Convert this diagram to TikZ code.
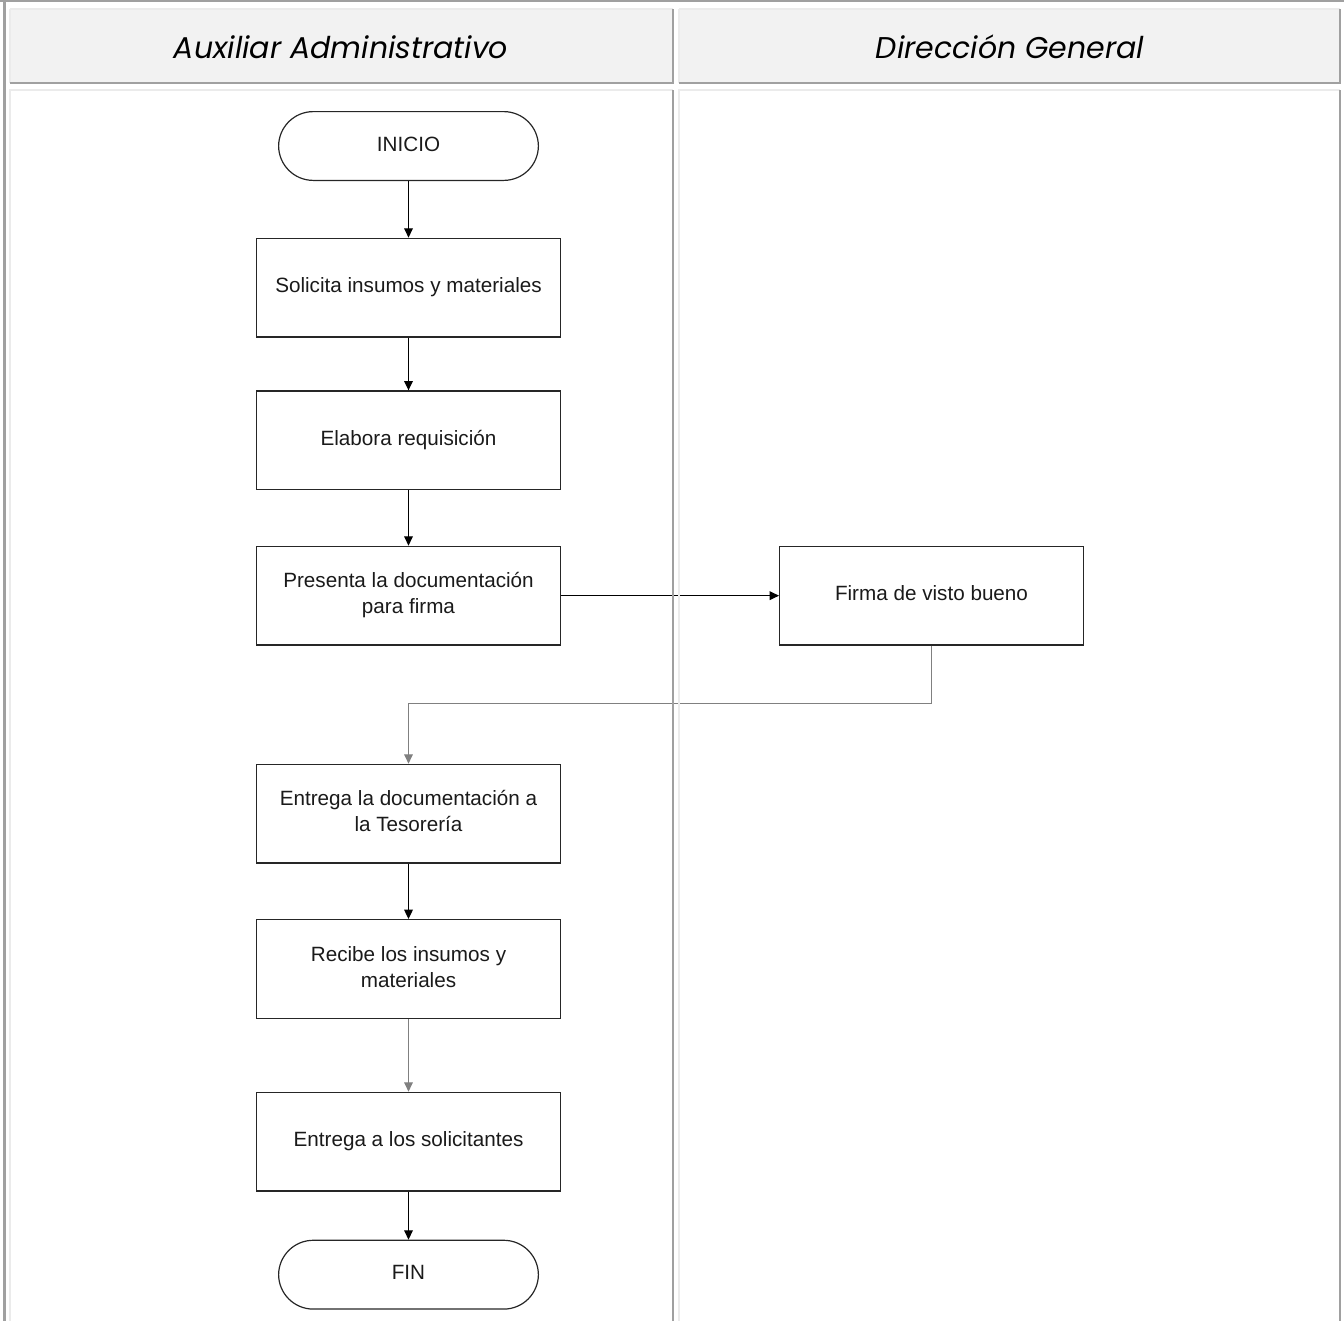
\documentclass[tikz,border=0pt]{standalone}
\usepackage{fontspec}
\setmainfont{Liberation Sans}
\newfontfamily\lanefont{Poppins}
\usetikzlibrary{positioning,arrows.meta}

\begin{document}
\begin{tikzpicture}[x=0.75pt,y=-0.75pt]
  \definecolor{lanefill}{HTML}{F2F2F2}
  \definecolor{darkline}{HTML}{A0A0A0}
  \definecolor{lightline}{HTML}{EBEBEB}
  \definecolor{connectgray}{HTML}{808080}
  \definecolor{textgray}{HTML}{1A1A1A}
  \newcommand{\stepsep}[0]{41.5pt}
  \newcommand{\lanename}[1]{\lanefont\itshape\fontsize{22.5}{27}\selectfont #1}
  \newcommand{\stepname}[1]{\fontsize{15.5}{19.5}\selectfont\begin{tabular}{c}#1\end{tabular}}
  \tikzstyle{block}     = [rectangle, draw=black!85, line width=0.9pt, minimum width=227.85pt, minimum height=74.1pt, text=textgray]
  \tikzstyle{terminal}  = [block, rounded corners=26pt, minimum width=194.85pt, minimum height=51.6pt]
  \tikzstyle{connector} = [line width=0.9pt, -{Triangle[length=7pt,width=6.5pt]}]
  \tikzstyle{lightedge} = [draw=lightline, line width=1.5pt]
  \tikzstyle{darkedge}  = [draw=darkline, line width=1.5pt]
  \useasboundingbox (0,0) rectangle (1344,1321);
  % lane headers
  \fill [lanefill] (10,9) rectangle (673,83);
  \fill [lanefill] (679,9) rectangle (1340,83);
  \node (auxhead) at (341,47)  {\lanename{Auxiliar Administrativo}};
  \node (dirhead) at (1010,47) {\lanename{Dirección General}};
  % steps
  \node [terminal] at (408.5,146)                    (inicio)     {\stepname{INICIO}};
  \node [block, below = 42.5pt of inicio]            (solicita)   {\stepname{Solicita insumos y materiales}};
  \node [block, below = 39.5pt of solicita]          (elabora)    {\stepname{Elabora requisición}};
  \node [block, below = \stepsep of elabora]         (presenta)   {\stepname{Presenta la documentación\\para firma}};
  \node [block, right = 163.5pt of presenta]         (firma)      {\stepname{Firma de visto bueno}};
  \node [block, below = 88.5pt of presenta]          (entregadoc) {\stepname{Entrega la documentación a\\la Tesorería}};
  \node [block, below = \stepsep of entregadoc]      (recibe)     {\stepname{Recibe los insumos y\\materiales}};
  \node [block, below = 54.5pt of recibe]            (entregasol) {\stepname{Entrega a los solicitantes}};
  \node [terminal, below = 36pt of entregasol]       (fin)        {\stepname{FIN}};
  \draw [connector] (inicio)     -- (solicita);
  \draw [connector] (solicita)   -- (elabora);
  \draw [connector] (elabora)    -- (presenta);
  \draw [connector] (presenta)   -- (firma);
  \draw [connector, connectgray, line width=0.7pt] (firma.south) -- ++(0,58) -| (entregadoc.north);
  \draw [connector] (entregadoc) -- (recibe);
  \draw [connector, connectgray, line width=0.7pt] (recibe) -- (entregasol);
  \draw [connector] (entregasol) -- (fin);
  % lane borders
  \draw [darkedge, line width=2pt] (0,1) -- (1344,1);
  \draw [darkedge, line width=2pt] (4.5,0) -- (4.5,1321);
  \draw [lightedge] (10,9) -- (673,9)  (10,9) -- (10,83);
  \draw [lightedge] (679,9) -- (1340,9) (679,9) -- (679,83);
  \draw [darkedge]  (673,9) -- (673,83) -- (10,83);
  \draw [darkedge]  (1340,9) -- (1340,83) -- (679,83);
  \draw [lightedge] (10,1321) -- (10,90) -- (673,90);
  \draw [lightedge] (679,1321) -- (679,90) -- (1340,90);
  \draw [darkedge]  (673,90) -- (673,1321);
  \draw [darkedge]  (1340,90) -- (1340,1321);
\end{tikzpicture}
\end{document}
